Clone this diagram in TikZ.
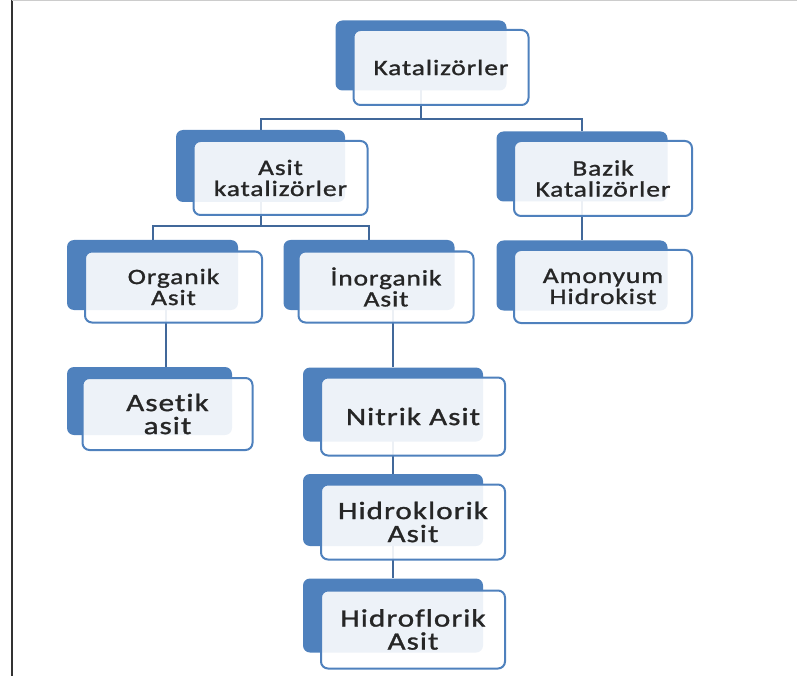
\documentclass[tikz,border=0pt]{standalone}
\usepackage{fontspec}
\newfontfamily\cardfont[FakeStretch=1.25,LetterSpace=4,FakeBold=1.2,Ligatures=NoCommon]{Carlito}
\usepackage{tikz}
\usetikzlibrary{positioning, calc, backgrounds}
\definecolor{cardblue}{HTML}{4F81BD}
\definecolor{linkblue}{HTML}{41689A}
\tikzstyle{back} = [rectangle, rounded corners=7pt, fill=cardblue, minimum width=171pt, minimum height=70pt, inner sep=0pt]
\tikzstyle{front} = [rectangle, rounded corners=7pt, draw=cardblue, line width=2pt, fill=white, fill opacity=0.9, text opacity=1, minimum width=175pt, minimum height=75pt, align=center, inner sep=0pt, text=black!85, font=\cardfont\fontsize{22}{21}\selectfont]
\tikzstyle{bigback} = [back, minimum width=180pt, minimum height=74pt]
\tikzstyle{bigfront} = [front, minimum width=184pt, minimum height=78pt, font=\cardfont\fontsize{25}{23}\selectfont]
\tikzstyle{link} = [draw=linkblue, line width=2pt]

\begin{document}
\begin{tikzpicture}[x=1pt, y=-1pt]
  \useasboundingbox (0,0) rectangle (797,676);
  \draw[black!80, line width=2pt] (11.5,0) -- (11.5,676);
  \draw[black!20] (11.5,0.5) -- (797,0.5);

  \node (kat) [back] at (421,55.5) {};
  \node (katF) [front] at ([shift={(20,12)}]kat.center) {Katalizörler};
  \node (asit) [back, minimum width=169pt, minimum height=72pt] at (260.5,166) {};
  \node (asitF) [front, minimum width=174pt, minimum height=74pt] at ([shift={(20,12)}]asit.center) {Asit\\katalizörler};
  \node (bazik) [back] at (582,166.5) {};
  \node (bazikF) [front, minimum width=178pt] at ([shift={(21,12)}]bazik.center) {Bazik\\Katalizörler};
  \node (organik) [back] at (152.5,275) {};
  \node (organikF) [front, minimum width=177pt, minimum height=71pt] at ([shift={(21,12)}]organik.center) {Organik\\Asit};
  \node (inorganik) [back] at (369,275) {};
  \node (inorganikF) [front, minimum height=71pt] at ([shift={(17,12)}]inorganik.center) {İnorganik\\Asit};
  \node (amonyum) [back] at (582,275.5) {};
  \node (amonyumF) [front, minimum width=178pt, minimum height=73pt] at ([shift={(21,11)}]amonyum.center) {Amonyum\\Hidrokist};

  \node (asetik) [bigback, minimum width=165pt, minimum height=68pt] at (149.5,401) {};
  \node (asetikF) [bigfront, minimum width=170pt, minimum height=72pt] at ([shift={(18,13)}]asetik.center) {Asetik\\asit};
  \node (nitrik) [bigback] at (393,404.5) {};
  \node (nitrikF) [bigfront] at ([shift={(20,12)}]nitrik.center) {Nitrik Asit};
  \node (hidroklorik) [bigback, minimum height=72pt] at (393,510) {};
  \node (hidroklorikF) [bigfront, minimum height=75pt] at ([shift={(20,12)}]hidroklorik.center) {Hidroklorik\\Asit};
  \node (hidroflorik) [bigback] at (393,615.5) {};
  \node (hidroflorikF) [bigfront] at ([shift={(20,14)}]hidroflorik.center) {Hidroflorik\\Asit};

  \begin{scope}[on background layer]
    \coordinate (bus1) at ($(kat.south)+(0,28)$);
    \draw[link] (kat.center) -- (bus1) -| (asit.north);
    \draw[link] (bus1) -| (bazik.north);
    \coordinate (bus2) at ($(asit.south)+(0,24)$);
    \draw[link] (asit.center) -- (bus2) -| (organik.north);
    \draw[link] (bus2) -| (inorganik.north);
    \draw[link] (bazik.center) -- (amonyum.north);
    \draw[link] ($(asetik.north |- organik.center)+(16,0)$) -- ($(asetik.north)+(16,0)$);
    \draw[link] (nitrik.north |- inorganik.center) -- (nitrik.north);
    \draw[link] (nitrik.center) -- (hidroklorik.north);
    \draw[link] (hidroklorik.center) -- (hidroflorik.north);
  \end{scope}
\end{tikzpicture}
\end{document}
